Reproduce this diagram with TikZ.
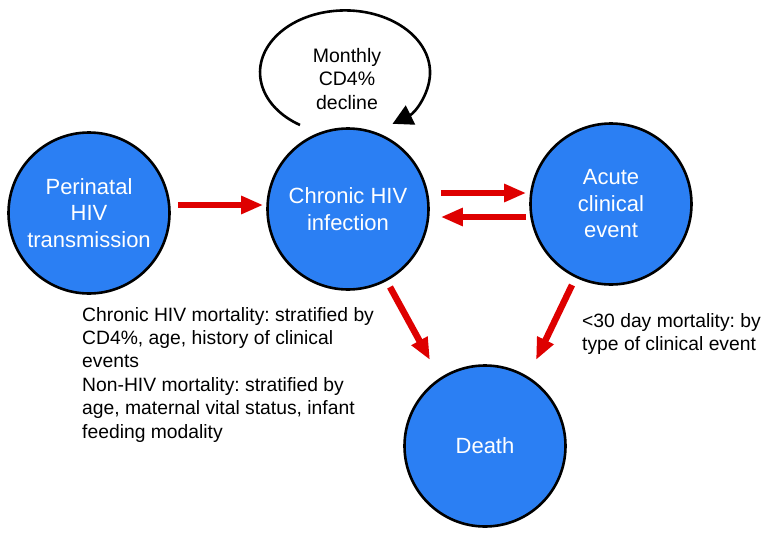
\documentclass[tikz,border=0pt]{standalone}
\usepackage{fontspec}
\setmainfont{Liberation Sans}
\frenchspacing
\usepackage{tikz}
\usetikzlibrary{arrows.meta,calc}
\usetikzlibrary{positioning}
\definecolor{stateblue}{RGB}{43,127,243}
\definecolor{flowred}{RGB}{222,0,0}
\tikzset{
    hivstate/.style={
           circle,
           fill=stateblue,
           draw=black, line width=2.6pt,
           minimum size=161pt,
           inner sep=0pt,
           text=white,
           align=center,
           font=\fontsize{22}{26.5}\selectfont,
           },
    flow/.style={
           draw=flowred, line width=6.5pt,
           -{Triangle[length=22pt,width=17pt]},
           },
    loopline/.style={
           draw=black, line width=2.6pt,
           -{Triangle[length=20pt,width=21pt]},
           },
    note/.style={
           align=left,
           inner sep=0pt,
           font=\fontsize{19.3}{23.4}\selectfont,
           },
}

\begin{document}
\begin{tikzpicture}[x=1pt,y=-1pt]
      % picture size in pixels of the reference, y pointing down
      \useasboundingbox (0,0) rectangle (769,536);

      % STATE PERINATAL
      % Use previously defined 'hivstate' as layout (see above)
      \node[hivstate] (HIV_PERI) at (89,213)
      {Perinatal\\HIV\\transmission};

      % STATE CHRONIC
      \node[hivstate] (HIV_CHRONIC) at (348,209)
      {Chronic HIV\\infection};

      % STATE ACUTE
      \node[hivstate] (HIV_ACUTE) at (611,204)
      {Acute\\clinical\\event};

      % STATE DEATH
      \node[hivstate] (HIV_DEATH) at (485,446)
      {Death};

      % text of the self loop
      \node[note, align=center,
          font=\fontsize{19.5}{23.5}\selectfont] (LOOP_TEXT) at (347,79)
      {Monthly\\CD4\%\\decline};

      % mortality notes
      \node[note, anchor=north west] (NOTE_CHRONIC) at (82,307)
      {Chronic HIV mortality: stratified by\\
       CD4\%, age, history of clinical\\
       events\\
       Non-HIV mortality: stratified by\\
       age, maternal vital status, infant\\
       feeding modality};
      \node[note, anchor=north west] (NOTE_ACUTE) at (582,313)
      {<30 day mortality: by\\
       type of clinical event};

      % draw the paths
      \draw[flow] ($(HIV_PERI.east)+(7,-8)$) -- ($(HIV_CHRONIC.west)+(-3,-4)$);
      \draw[flow] ($(HIV_CHRONIC.east)+(11,-16)$) -- ($(HIV_ACUTE.west)+(-3,-11)$);
      \draw[flow] ($(HIV_ACUTE.west)+(-3,13)$) -- ($(HIV_CHRONIC.east)+(11,8)$);
      \draw[flow] ($(HIV_CHRONIC.center)+(42,78)$) -- ($(HIV_DEATH.center)+(-55,-86)$);
      \draw[flow] ($(HIV_ACUTE.center)+(-39,81)$) -- ($(HIV_DEATH.center)+(51,-86)$);

      % CD4% decline loop
      \draw[loopline] ([shift={(-48,-84)}]HIV_CHRONIC.center)
          arc[start angle=238, end angle=-56, x radius=85pt, y radius=62pt];

\end{tikzpicture}
\end{document}
